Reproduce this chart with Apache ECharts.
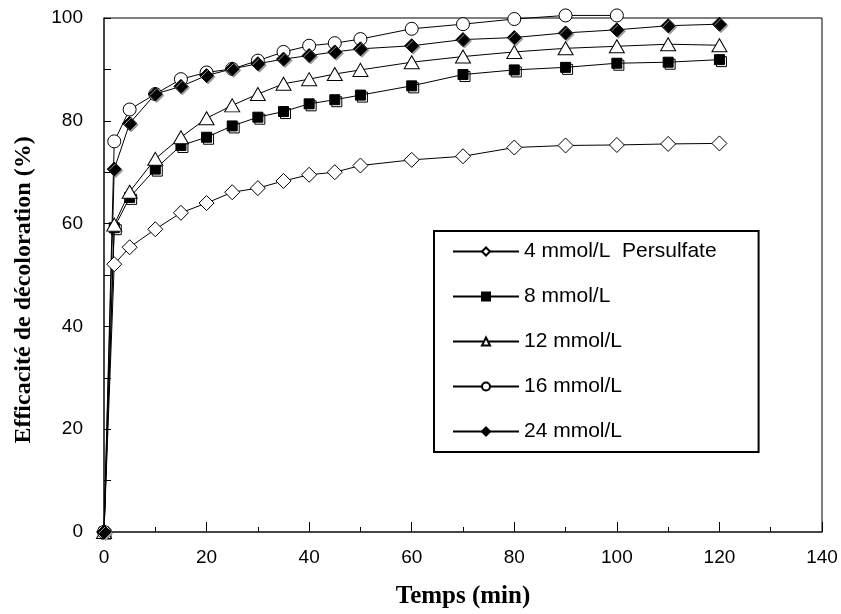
<!DOCTYPE html>
<html>
<head>
<meta charset="utf-8">
<script src="https://cdn.jsdelivr.net/npm/echarts@6/dist/echarts.min.js"></script>
<style>
html,body{margin:0;padding:0;background:#fff;}
#chart{width:841px;height:614px;}
</style>
</head>
<body>
<div id="chart"></div>
<script>
var times = [0, 2, 5, 10, 15, 20, 25, 30, 35, 40, 45, 50, 60, 70, 80, 90, 100, 110, 120];
var seriesNames = ['4 mmol/L  Persulfate', '8 mmol/L', '12 mmol/L', '16 mmol/L', '24 mmol/L'];
var s4  = [0, 52.1, 55.4, 58.9, 62.1, 64.0, 66.1, 66.9, 68.3, 69.5, 70.0, 71.3, 72.4, 73.1, 74.8, 75.2, 75.3, 75.5, 75.6];
var s8  = [0, 59.2, 65.1, 70.6, 75.2, 76.8, 79.0, 80.7, 81.8, 83.3, 84.1, 85.0, 86.8, 89.0, 89.9, 90.4, 91.2, 91.4, 91.9];
var s12 = [0, 59.8, 66.2, 72.6, 76.8, 80.5, 83.0, 85.2, 87.2, 88.1, 89.1, 89.9, 91.4, 92.5, 93.4, 94.1, 94.5, 94.9, 94.7];
var s16 = [0, 76.0, 82.2, 85.2, 88.1, 89.4, 90.1, 91.7, 93.4, 94.6, 95.1, 95.9, 97.9, 98.8, 99.8, 100.5, 100.5];
var s24 = [0, 70.6, 79.5, 85.2, 86.7, 88.8, 90.1, 91.1, 92.0, 92.7, 93.4, 94.0, 94.6, 95.8, 96.2, 97.1, 97.7, 98.5, 98.8];
var xTicks = [0, 20, 40, 60, 80, 100, 120, 140];
var yTicks = [0, 20, 40, 60, 80, 100];

function pairs(vals) {
  var out = [];
  for (var i = 0; i < vals.length; i++) { out.push([times[i], vals[i]]); }
  return out;
}

var sans = 'Arial, "Liberation Sans", sans-serif';
var serif = '"Times New Roman", "Liberation Serif", serif';

function mk(name, vals, symbol, size, fill, extra) {
  var s = {
    name: name, type: 'line', data: pairs(vals), clip: false,
    symbol: symbol, symbolSize: size, showAllSymbol: true,
    lineStyle: { color: '#000', width: 1 },
    itemStyle: { color: fill, borderColor: '#000', borderWidth: 1 },
    emphasis: { disabled: true }, z: 3
  };
  if (extra) { for (var k in extra) s[k] = extra[k]; }
  return s;
}

var chart = echarts.init(document.getElementById('chart'), null, { renderer: 'canvas' });
chart.setOption({
  animation: false,
  backgroundColor: '#fff',
  grid: { left: 104, right: 19, top: 18, bottom: 81, show: true, borderColor: '#000', borderWidth: 1, backgroundColor: 'transparent' },
  xAxis: {
    type: 'value', min: xTicks[0], max: xTicks[xTicks.length - 1], interval: 20,
    axisLine: { show: true, onZero: false, lineStyle: { color: '#333', width: 1.5 } },
    axisTick: { show: true, inside: true, length: 10, lineStyle: { color: '#000' } },
    minorTick: { show: true, splitNumber: 2, length: 5, lineStyle: { color: '#000' } },
    splitLine: { show: false },
    axisLabel: { color: '#000', fontSize: 19, fontFamily: sans, margin: 16 },
    name: 'Temps (min)', nameLocation: 'middle', nameGap: 52,
    nameTextStyle: { color: '#000', fontSize: 25, fontWeight: 'bold', fontFamily: serif }
  },
  yAxis: {
    type: 'value', min: yTicks[0], max: yTicks[yTicks.length - 1], interval: 20,
    axisLine: { show: true, onZero: false, lineStyle: { color: '#333', width: 1.5 } },
    axisTick: { show: true, inside: true, length: 7, lineStyle: { color: '#000' } },
    minorTick: { show: true, splitNumber: 2, length: 7, lineStyle: { color: '#000' } },
    splitLine: { show: false },
    axisLabel: { color: '#000', fontSize: 19, fontFamily: sans, margin: 21 }
  },
  legend: {
    data: seriesNames, orient: 'vertical', left: 434, top: 231,
    borderColor: '#000', borderWidth: 2, backgroundColor: '#fff',
    padding: [10, 42, 10, 18], itemGap: 24, itemWidth: 66, itemHeight: 10,
    textStyle: { color: '#000', fontSize: 21, lineHeight: 21, fontFamily: sans },
    selectedMode: false
  },
  graphic: [{
    type: 'text', x: 24, y: 290, rotation: Math.PI / 2,
    style: { text: 'Efficacité de décoloration (%)', fill: '#000', fontSize: 24, fontWeight: 'bold', fontFamily: serif, align: 'center', verticalAlign: 'middle' }
  }],
  series: [
    mk(seriesNames[0], s4, 'diamond', [15, 15], '#fff'),
    mk('8 shadow', s8, 'rect', 10, '#fff', { symbolOffset: [2, 2], lineStyle: { opacity: 0 }, z: 2, silent: true }),
    mk(seriesNames[1], s8, 'rect', 10, '#000'),
    mk(seriesNames[2], s12, 'triangle', [15, 13], '#fff'),
    mk(seriesNames[3], s16, 'circle', 13, '#fff'),
    mk(seriesNames[4], s24, 'diamond', [14, 14], '#000', { itemStyle: { color: '#000', borderColor: '#000', borderWidth: 1, shadowColor: '#999', shadowOffsetX: 1.5, shadowOffsetY: 1.5, shadowBlur: 0 } })
  ]
});
</script>
</body>
</html>
